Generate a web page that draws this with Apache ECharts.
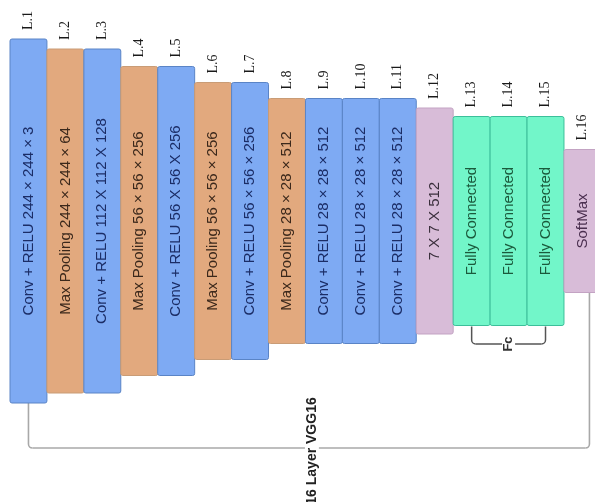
<!DOCTYPE html>
<html><head><meta charset="utf-8">
<script src="https://cdn.jsdelivr.net/npm/echarts@6/dist/echarts.min.js"></script>
<style>html,body{margin:0;padding:0;background:#fff}#c{width:595px;height:502px}</style>
</head><body><div id="c"></div>
<script>
const layers = ['L.1','L.2','L.3','L.4','L.5','L.6','L.7','L.8','L.9','L.10','L.11','L.12','L.13','L.14','L.15','L.16'];
const sizes = [364,344,344,309,309,277,277,245,245,245,245,226,209,209,209,143];
const kinds = ['conv','pool','conv','pool','conv','pool','conv','pool','conv','conv','conv','flat','fc','fc','fc','soft'];
const descriptions = [
  'Conv + RELU 244 × 244 × 3',
  'Max Pooling 244 × 244 × 64',
  'Conv + RELU 112 X 112 X 128',
  'Max Pooling 56 × 56 × 256',
  'Conv + RELU 56 X 56 X 256',
  'Max Pooling 56 × 56 × 256',
  'Conv + RELU 56 × 56 × 256',
  'Max Pooling 28 × 28 × 512',
  'Conv + RELU 28 × 28 × 512',
  'Conv + RELU 28 × 28 × 512',
  'Conv + RELU 28 × 28 × 512',
  '7 X 7 X 512',
  'Fully Connected',
  'Fully Connected',
  'Fully Connected',
  'SoftMax'
];
const groupTitle = '16 Layer VGG16';
const fcTitle = 'Fc';
const fcRange = [12, 14];

const styles = {
  conv: {fill:'#7eaaf3', stroke:'#5a84c6', text:'#1b2d66'},
  pool: {fill:'#e2a97e', stroke:'#c99c76', text:'#3b281b'},
  flat: {fill:'#d8bcd8', stroke:'#c3a3c3', text:'#3a2f3c'},
  fc:   {fill:'#72f6c9', stroke:'#3cbf9a', text:'#1b5a3c'},
  soft: {fill:'#d8bcd8', stroke:'#c3a3c3', text:'#4a2f4f'}
};

const chart = echarts.init(document.getElementById('c'), null, {renderer:'canvas'});

function renderBar(params, api){
  const i = api.value(0), h = api.value(1);
  const top = api.coord([i, h/2]), bot = api.coord([i, -h/2]);
  const w = api.size([1,0])[0];
  const st = styles[kinds[i]];
  return {type:'group', children:[
    {type:'rect', shape:{x: top[0]-w/2, y: top[1], width: w, height: bot[1]-top[1], r: 2},
     style:{fill: st.fill, stroke: st.stroke, lineWidth: 1}},
    {type:'text', x: top[0], y: (top[1]+bot[1])/2, rotation: Math.PI/2,
     style:{text: descriptions[i], fill: st.text, fontSize: 15, fontFamily: 'Liberation Sans', align:'center', verticalAlign:'middle'}},
    {type:'text', x: top[0], y: top[1]-9, rotation: Math.PI/2,
     style:{text: layers[i], fill:'#1a1a1a', fontSize: 14, fontFamily: 'Liberation Serif', align:'left', verticalAlign:'middle'}}
  ]};
}

function roundedU(x1, y1, x2, y2, yb, r){
  return [
    {type:'line', shape:{x1:x1, y1:y1, x2:x1, y2:yb-r}},
    {type:'arc', shape:{cx:x1+r, cy:yb-r, r:r, startAngle:Math.PI/2, endAngle:Math.PI, clockwise:true}},
    {type:'line', shape:{x1:x1+r, y1:yb, x2:x2-r, y2:yb}},
    {type:'arc', shape:{cx:x2-r, cy:yb-r, r:r, startAngle:0, endAngle:Math.PI/2, clockwise:true}},
    {type:'line', shape:{x1:x2, y1:yb-r, x2:x2, y2:y2}}
  ];
}

function renderBrackets(params, api){
  const last = layers.length - 1;
  const a = api.coord([0, -sizes[0]/2]);
  const b = api.coord([last, -sizes[last]/2]);
  const yb = api.coord([0, -227])[1];
  const bx = b[0] + 7;
  const f1 = api.coord([fcRange[0], -sizes[fcRange[0]]/2]);
  const f2 = api.coord([fcRange[1], -sizes[fcRange[1]]/2]);
  const fy = api.coord([0, -123])[1];
  const fmid = api.coord([(fcRange[0]+fcRange[1])/2, 0])[0];
  const tx = api.coord([8, 0])[0] - 12;
  const big = roundedU(a[0], a[1], bx, b[1], yb, 4).map(e => Object.assign(e, {style:{stroke:'#a8a8a8', lineWidth:1.6, fill:null}}));
  const fc = roundedU(f1[0], f1[1]+1, f2[0], f2[1]+1, fy, 4).map(e => Object.assign(e, {style:{stroke:'#555', lineWidth:1.5, fill:null}}));
  return {type:'group', children: big.concat(fc).concat([
    {type:'text', x: fmid, y: fy, rotation: Math.PI/2,
     style:{text: fcTitle, fill:'#333', fontSize: 13, fontWeight:'bold', fontFamily:'Liberation Sans', align:'center', verticalAlign:'middle', backgroundColor:'#fff', padding:[0,3]}},
    {type:'text', x: tx, y: yb + 3, rotation: Math.PI/2,
     style:{text: groupTitle, fill:'#222', fontSize: 14, fontWeight:'bold', fontFamily:'Liberation Sans', align:'center', verticalAlign:'middle', backgroundColor:'#fff', padding:[0,4]}}
  ])};
}

chart.setOption({
  animation: false,
  grid: {left: 10, right: 0, top: 0, bottom: 0},
  xAxis: {type:'value', min: -0.5, max: 15.34, show: false},
  yAxis: {type:'value', min: -281, max: 221, show: false},
  series: [
    {type:'custom', renderItem: renderBrackets, data: [[0, 0]], encode:{x:0, y:1}, z: 1, clip: false},
    {type:'custom', renderItem: renderBar, data: sizes.map((s,i)=>[i,s]), encode:{x:0, y:1}, z: 2, clip: false}
  ]
});
</script></body></html>
